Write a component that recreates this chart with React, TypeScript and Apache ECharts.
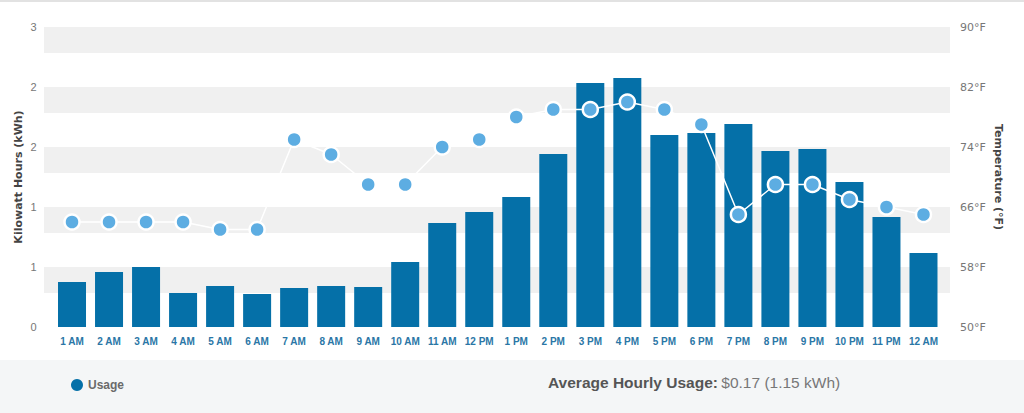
import React, { useEffect, useRef } from "react";
import * as echarts from "echarts";

const hours = [
  "1 AM", "2 AM", "3 AM", "4 AM", "5 AM", "6 AM", "7 AM", "8 AM", "9 AM", "10 AM", "11 AM", "12 PM",
  "1 PM", "2 PM", "3 PM", "4 PM", "5 PM", "6 PM", "7 PM", "8 PM", "9 PM", "10 PM", "11 PM", "12 AM",
];
const usageKwh = [
  0.45, 0.55, 0.6, 0.34, 0.41, 0.33, 0.39, 0.41, 0.4, 0.65, 1.04, 1.15,
  1.3, 1.73, 2.44, 2.49, 1.92, 1.94, 2.03, 1.76, 1.78, 1.45, 1.1, 0.74,
];
const temperatureF = [
  64, 64, 64, 64, 63, 63, 75, 73, 69, 69, 74, 75,
  78, 79, 79, 80, 79, 77, 65, 69, 69, 67, 66, 65,
];
const kwhTicks = [0, 0.6, 1.2, 1.8, 2.4, 3];
const tempTicks = [50, 58, 66, 74, 82, 90];
const bandTops = [3, 2.4, 1.8, 1.2, 0.6];
const bandDepth = 0.26;
const avgCost = "$0.17";
const avgKwh = "1.15 kWh";

export default function App() {
  const ref = useRef<HTMLDivElement>(null);
  useEffect(() => {
    if (!ref.current) return;
    const chart = echarts.init(ref.current, null, { renderer: "svg" });
    const font = "'Liberation Sans', Arial, sans-serif";
    const option: any = {
      animation: false,
      backgroundColor: "#ffffff",
      textStyle: { fontFamily: font },
      graphic: [
        { type: "rect", left: 0, top: 0, shape: { width: 1024, height: 2 }, style: { fill: "#e2e2e2" }, z: 0 },
        { type: "rect", left: 0, top: 360, shape: { width: 1024, height: 53 }, style: { fill: "#f4f6f7" }, z: 0 },
        {
          type: "text",
          left: 548,
          top: 374,
          z: 5,
          style: {
            text: "{b|Average Hourly Usage:} {n|" + avgCost + " (" + avgKwh + ")}",
            rich: {
              b: { fontFamily: font, fontSize: 15.5, fontWeight: "bold", fill: "#555555" },
              n: { fontFamily: font, fontSize: 15.5, fill: "#777777" },
            },
          },
        },
      ],
      legend: {
        data: ["Usage"],
        left: 66,
        top: 374,
        icon: "circle",
        itemWidth: 12,
        itemHeight: 12,
        itemGap: 10,
        textStyle: { fontFamily: font, fontSize: 12, fontWeight: "bold", color: "#6a6a6a" },
        selectedMode: false,
      },
      grid: [
        { left: 53.5, right: 82, top: 27, bottom: 86 },
        { left: 44, right: 74, top: 27, bottom: 86 },
      ],
      xAxis: [
        {
          type: "category",
          gridIndex: 0,
          data: hours,
          boundaryGap: true,
          axisLine: { show: false },
          axisTick: { show: false },
          axisLabel: { color: "#2a76a6", fontSize: 10, fontWeight: "bold", margin: 9, interval: 0, fontFamily: font },
        },
        { type: "value", gridIndex: 1, min: 0, max: 1, show: false },
      ],
      yAxis: [
        {
          type: "value",
          gridIndex: 0,
          min: kwhTicks[0],
          max: kwhTicks[kwhTicks.length - 1],
          interval: kwhTicks[1] - kwhTicks[0],
          splitLine: { show: false },
          axisLine: { show: false },
          axisTick: { show: false },
          axisLabel: {
            color: "#777777",
            fontSize: 11,
            margin: 17,
            fontFamily: font,
            formatter: (v: number) => String(Math.round(v)),
          },
          name: "Kilowatt Hours (kWh)",
          nameLocation: "middle",
          nameRotate: 90,
          nameGap: 30,
          nameMoveOverlap: false,
          nameTextStyle: { color: "#444444", fontSize: 11, fontWeight: "bold", fontFamily: "'DejaVu Sans', sans-serif" },
        },
        {
          type: "value",
          gridIndex: 0,
          position: "right",
          min: tempTicks[0],
          max: tempTicks[tempTicks.length - 1],
          interval: tempTicks[1] - tempTicks[0],
          splitLine: { show: false },
          axisLine: { show: false },
          axisTick: { show: false },
          axisLabel: { color: "#777777", fontSize: 11, margin: 18, fontFamily: "'DejaVu Sans', sans-serif", formatter: "{value}°F" },
          name: "Temperature (°F)",
          nameLocation: "middle",
          nameRotate: -90,
          nameGap: 51,
          nameMoveOverlap: false,
          nameTextStyle: { color: "#444444", fontSize: 11, fontWeight: "bold", fontFamily: "'DejaVu Sans', sans-serif" },
        },
        { type: "value", gridIndex: 1, min: kwhTicks[0], max: kwhTicks[kwhTicks.length - 1], show: false },
      ],
      series: [
        {
          name: "bands",
          type: "line",
          xAxisIndex: 1,
          yAxisIndex: 2,
          data: [],
          z: 0,
          silent: true,
          markArea: {
            silent: true,
            itemStyle: { color: "#f0f0f0" },
            data: bandTops.map((t) => [{ yAxis: t }, { yAxis: t - bandDepth }]),
          },
        },
        {
          name: "Usage",
          type: "bar",
          xAxisIndex: 0,
          yAxisIndex: 0,
          data: usageKwh,
          barWidth: 28,
          itemStyle: { color: "#0570a8" },
          z: 2,
        },
        {
          name: "Temperature",
          type: "line",
          xAxisIndex: 0,
          yAxisIndex: 1,
          data: temperatureF,
          symbol: "circle",
          symbolSize: 15,
          showAllSymbol: true,
          lineStyle: { color: "#ffffff", width: 1.5 },
          itemStyle: { color: "#5dade2", borderColor: "#ffffff", borderWidth: 2.5 },
          z: 3,
        },
      ],
    };
    chart.setOption(option);
    return () => chart.dispose();
  }, []);
  return (
    <div style={{ position: "absolute", left: 0, top: 0, width: 1024, height: 413 }}>
      <div ref={ref} style={{ width: 1024, height: 413 }} />
    </div>
  );
}
